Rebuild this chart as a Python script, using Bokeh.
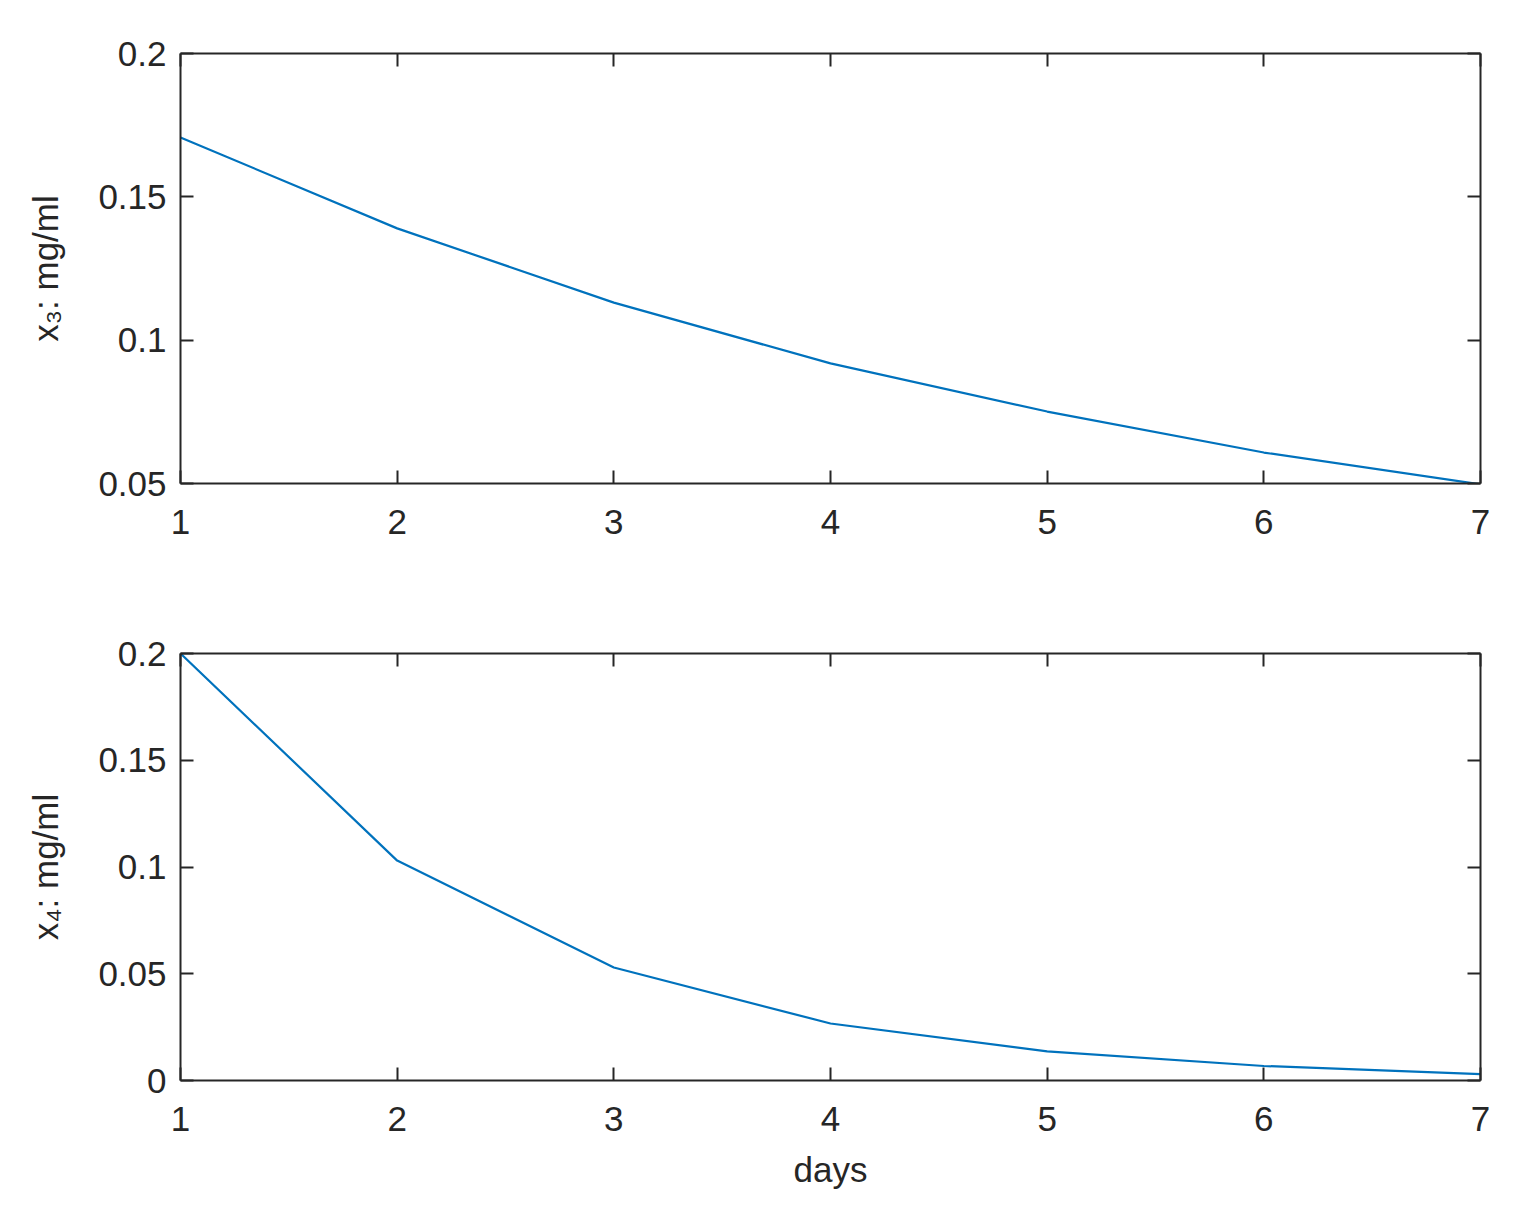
from bokeh.plotting import figure
from bokeh.layouts import column
from bokeh.models import Range1d, FixedTicker, LinearAxis, CustomJSTickFormatter
from bokeh.embed import file_html
from bokeh.resources import INLINE

days = [1, 2, 3, 4, 5, 6, 7]
x3_values = [0.1707, 0.1390, 0.1131, 0.0919, 0.0751, 0.0608, 0.0497]
x4_values = [0.2000, 0.1030, 0.0529, 0.0267, 0.0136, 0.0068, 0.0030]

x_ticks = [1, 2, 3, 4, 5, 6, 7]
x_tick_labels = ["1", "2", "3", "4", "5", "6", "7"]
y3_ticks = [0.05, 0.1, 0.15, 0.2]
y3_tick_labels = ["0.05", "0.1", "0.15", "0.2"]
y4_ticks = [0, 0.05, 0.1, 0.15, 0.2]
y4_tick_labels = ["0", "0.05", "0.1", "0.15", "0.2"]

FONT = "Liberation Sans"
TXT = "#262626"
LINE = "#0072BD"
FS = "35px"


def style_axis(ax, ticks, labels=None):
    ax.ticker = FixedTicker(ticks=ticks)
    ax.major_tick_in = 13
    ax.major_tick_out = 0
    ax.minor_tick_line_color = None
    ax.axis_line_color = TXT
    ax.axis_line_width = 2
    ax.major_tick_line_color = TXT
    ax.major_tick_line_width = 2
    ax.major_label_text_font = FONT
    ax.major_label_text_color = TXT
    ax.major_label_text_font_size = FS
    ax.axis_label_text_font = FONT
    ax.axis_label_text_color = TXT
    ax.axis_label_text_font_size = FS
    ax.axis_label_text_font_style = "normal"
    if labels is not None:
        ax.major_label_overrides = {t: l for t, l in zip(ticks, labels)}
    else:
        ax.formatter = CustomJSTickFormatter(code="return ''")
        ax.major_label_text_font_size = "1px"
        ax.major_label_standoff = 0


def make_fig(height, yvals, yrange, yticks, ylabels, ylab, xlab, border_bottom):
    p = figure(width=1523, height=height, output_backend="svg", toolbar_location=None,
               x_range=Range1d(1, 7), y_range=Range1d(*yrange),
               min_border_left=180, min_border_right=43, min_border_top=53,
               min_border_bottom=border_bottom, x_axis_location=None, y_axis_location=None)
    p.grid.visible = False
    p.outline_line_color = None
    p.background_fill_color = "white"
    p.border_fill_color = "white"

    xb = LinearAxis()
    style_axis(xb, x_ticks, x_tick_labels)
    xb.major_label_standoff = 26
    if xlab:
        xb.axis_label = xlab
        xb.axis_label_standoff = 16
    p.add_layout(xb, "below")

    yl = LinearAxis()
    style_axis(yl, yticks, ylabels)
    yl.major_label_standoff = 14
    yl.axis_label = ylab
    yl.axis_label_standoff = 30
    p.add_layout(yl, "left")

    xt = LinearAxis()
    style_axis(xt, x_ticks)
    p.add_layout(xt, "above")

    yr = LinearAxis()
    style_axis(yr, yticks)
    p.add_layout(yr, "right")

    p.line(days, yvals, line_color=LINE, line_width=2.2)
    return p


p1 = make_fig(600, x3_values, (0.05, 0.2), y3_ticks, y3_tick_labels, "x₃: mg/ml", None, 117)
p2 = make_fig(600, x4_values, (0, 0.2), y4_ticks, y4_tick_labels, "x₄: mg/ml", "days", 120)

layout = column(p1, p2, spacing=0)
open("out.html", "w").write(file_html(layout, INLINE))
